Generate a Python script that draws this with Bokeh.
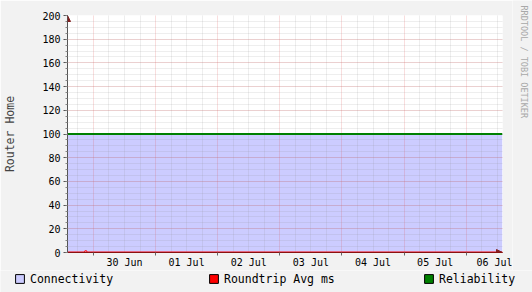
import math
from bokeh.plotting import figure
from bokeh.layouts import column, row
from bokeh.models import (FixedTicker, SingleIntervalTicker, Arrow, NormalHead,
                          Legend, LegendItem, ColumnDataSource, Label)
from bokeh.embed import file_html
from bokeh.resources import INLINE

# ---- data (x = hours since 29 Jun 14:00) ----
day_labels = ["30 Jun", "01 Jul", "02 Jul", "03 Jul", "04 Jul", "05 Jul", "06 Jul"]
first_midnight = 10          # 30 Jun 00:00
span_hours = 168             # one week

conn_hours = [0, 168]
connectivity = [100, 100]

rel_hours = [0, 168]
reliability = [100, 100]

rt_hours = [0, 6.6, 6.7, 7.4, 7.5, 168]
roundtrip_ms = [0.4, 0.4, 1.4, 1.4, 0.4, 0.4]

series_names = ["Connectivity", "Roundtrip Avg ms", "Reliability"]
series_colors = ["#CCCCFF", "#FF0000", "#008000"]

# derived tick positions
midnights = [first_midnight + 24 * i for i in range(len(day_labels))]
label_pos = [m + 12 for m in midnights]
minor_pos = [h for h in range(4, span_hours, 6) if h not in midnights]

FONT = "DejaVu Sans Mono"
ARROW = "#801F1F"
BACK = "#F2F2F2"

p = figure(width=512, height=270, x_range=(0, span_hours), y_range=(0, 200),
           output_backend="svg", toolbar_location=None,
           min_border_left=67, min_border_right=10, min_border_top=15, min_border_bottom=18,
           background_fill_color="white", border_fill_color=BACK,
           outline_line_color=None)

# area (underlay so that grid is drawn over it)
p.varea(x=conn_hours, y1=[0] * len(conn_hours), y2=connectivity,
        fill_color=series_colors[0], level="underlay")
p.line(rt_hours, roundtrip_ms, line_color=series_colors[1], line_width=1)
p.line(rel_hours, reliability, line_color=series_colors[2], line_width=2)

# grids
p.xgrid.ticker = FixedTicker(ticks=midnights, minor_ticks=minor_pos)
p.ygrid.ticker = SingleIntervalTicker(interval=20, num_minor_ticks=4)
for g in (p.xgrid, p.ygrid):
    g.grid_line_color = "#DE4F4F"
    g.grid_line_alpha = 0.38
    g.grid_line_dash = "1 1"
    g.minor_grid_line_color = "#8F8F8F"
    g.minor_grid_line_alpha = 0.3
    g.minor_grid_line_dash = "1 1"

# x axis
xa = p.xaxis[0]
xa.ticker = FixedTicker(ticks=label_pos, minor_ticks=midnights)
xa.major_label_overrides = {pos: lab for pos, lab in zip(label_pos, day_labels)}
xa.major_tick_out = 0
xa.major_tick_in = 0
xa.minor_tick_out = 3
xa.minor_tick_in = 0
xa.minor_tick_line_color = "#666666"
xa.axis_line_color = "#8B1010"
xa.major_label_standoff = 1
xa.major_label_text_font = FONT
xa.major_label_text_font_size = "10px"
xa.major_label_text_color = "black"

# y axis
ya = p.yaxis[0]
ya.ticker = SingleIntervalTicker(interval=20, num_minor_ticks=4)
ya.major_tick_out = 4
ya.major_tick_in = 0
ya.minor_tick_out = 2
ya.minor_tick_in = 0
ya.major_tick_line_color = "#555555"
ya.minor_tick_line_color = "#888888"
ya.axis_line_color = "#555555"
ya.major_label_standoff = 3
ya.major_label_text_font = FONT
ya.major_label_text_font_size = "10px"
ya.major_label_text_color = "black"
ya.axis_label = "Router Home"
ya.axis_label_text_font = FONT
ya.axis_label_text_font_size = "11.5px"
ya.axis_label_text_font_style = "normal"
ya.axis_label_standoff = 22

# arrows (drawn at the frame edges)
p.add_layout(Arrow(x_start=0, y_start=229, x_end=0, y_end=237,
                   start_units="screen", end_units="screen",
                   line_color="#555555", line_width=1,
                   end=NormalHead(size=6, fill_color=ARROW, line_color=ARROW)))
p.add_layout(Arrow(x_start=425, y_start=0, x_end=435, y_end=0,
                   start_units="screen", end_units="screen",
                   line_color="#8B1010", line_width=1,
                   end=NormalHead(size=6, fill_color=ARROW, line_color=ARROW)))

# watermark strip on the right side
side = figure(width=20, height=270, x_range=(0, 1), y_range=(0, 1),
              output_backend="svg", toolbar_location=None,
              x_axis_location=None, y_axis_location=None,
              min_border=0, background_fill_color=BACK, border_fill_color=BACK,
              outline_line_color=None)
side.frame_align = False
side.xgrid.visible = False
side.ygrid.visible = False
side.add_layout(Label(x=11.5, y=265, x_units="screen", y_units="screen",
                      text="RRDTOOL / TOBI OETIKER", angle=-math.pi / 2,
                      text_align="left", text_baseline="middle",
                      text_color="#A8A8A8", text_font=FONT, text_font_size="8.5px"))

# legend strip (separate figure below the chart)
lf = figure(width=532, height=22, x_range=(0, 1), y_range=(0, 1),
            output_backend="svg", toolbar_location=None,
            x_axis_location=None, y_axis_location=None,
            min_border=0, background_fill_color=BACK, border_fill_color=BACK,
            outline_line_color=None)
lf.frame_align = False
lf.xgrid.visible = False
lf.ygrid.visible = False

nan = float("nan")
legend_x = [14, 208, 423]
for name, col, lx in zip(series_names, series_colors, legend_x):
    src = ColumnDataSource(dict(l=[nan], r=[nan], b=[nan], t=[nan]))
    r = lf.quad(left="l", right="r", bottom="b", top="t", source=src,
                fill_color=col, line_color="black", line_width=1)
    lg = Legend(items=[LegendItem(label=name, renderers=[r])], location=(lx, 6.5),
                orientation="horizontal", padding=0, margin=0, spacing=0,
                glyph_width=11, glyph_height=11, label_height=11, label_standoff=5,
                label_text_font=FONT, label_text_font_size="11.5px",
                label_text_color="black", border_line_color=None,
                background_fill_alpha=0)
    lf.add_layout(lg)

layout = column(row(p, side, spacing=0), lf, spacing=0)
open("out.html", "w").write(file_html(layout, INLINE))
